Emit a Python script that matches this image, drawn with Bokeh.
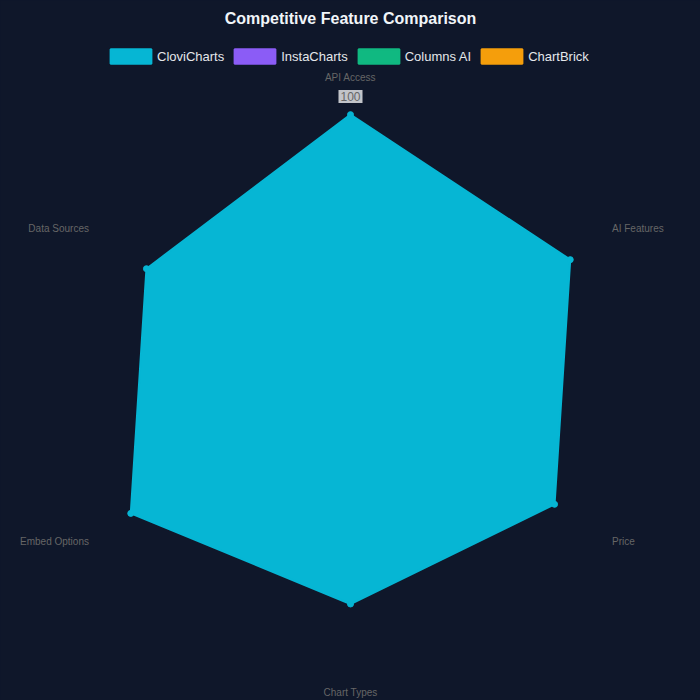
import numpy as np
from bokeh.plotting import figure
from bokeh.models import Range1d, Legend, LegendItem
from bokeh.core.properties import value
from bokeh.embed import file_html
from bokeh.resources import INLINE

# 数据
features = ["API Access", "AI Features", "Price", "Chart Types", "Embed Options", "Data Sources"]
clovicharts = [95, 90, 85, 80, 90, 85]
instacharts = [70, 60, 75, 65, 55, 60]
columns_ai = [45, 80, 70, 50, 40, 55]
chartbrick = [60, 30, 80, 70, 65, 20]
series_names = ["CloviCharts", "InstaCharts", "Columns AI", "ChartBrick"]
series_colors = ["#06b6d4", "#8b5cf6", "#10b981", "#f59e0b"]
tick_labels = ["100"]

scale_min, scale_max = 20, 100
R = 290  # 外圈半径(px)
BG = "#0f172a"
FONT_NAME = "Liberation Sans"
FONT = value(FONT_NAME)

angles = np.arange(len(features)) * 2 * np.pi / len(features)


def to_xy(vals):
    r = R * (np.array(vals, dtype=float) - scale_min) / (scale_max - scale_min)
    return r * np.sin(angles), r * np.cos(angles)


p = figure(width=700, height=700, output_backend="svg", toolbar_location=None,
           x_range=Range1d(-350, 350), y_range=Range1d(-314, 386),
           x_axis_location=None, y_axis_location=None, min_border=0,
           background_fill_color=BG, border_fill_color=BG, outline_line_color=None)
p.grid.visible = False

# 绘制雷达(后面的先画, CloviCharts 在最上层)
renderers = {}
all_series = [clovicharts, instacharts, columns_ai, chartbrick]
for name, vals, color in reversed(list(zip(series_names, all_series, series_colors))):
    xs, ys = to_xy(vals)
    r = p.patch(list(xs), list(ys), fill_color=color, fill_alpha=1.0,
                line_color=color, line_width=2)
    p.scatter(list(xs), list(ys), size=6, fill_color=color, line_color=color)
    renderers[name] = r

# 刻度标签 100
for t in tick_labels:
    ty = R * (float(t) - scale_min) / (scale_max - scale_min)
    p.text(x=[0], y=[ty], text=[t], text_font=FONT, text_font_size="12px",
           text_color="#666666", text_align="center", text_baseline="middle",
           background_fill_color="#ffffff", background_fill_alpha=0.75, padding=2)

# 维度标签
lx, ly, aligns = [], [], []
for a in angles:
    s, c = np.sin(a), np.cos(a)
    if abs(s) < 1e-6:
        x = 0.0
        y = R + 19 if c > 0 else -(R + 16)
        al = "center"
    else:
        x = (R + 12) * s
        y = (R + 12) * c + (7 if c > 0 else -4)
        al = "left" if s > 0 else "right"
    lx.append(x)
    ly.append(y)
    aligns.append(al)
for x, y, t, al in zip(lx, ly, features, aligns):
    p.text(x=[x], y=[y], text=[t], text_font=FONT, text_font_size="10px",
           text_color="#666666", text_align=al, text_baseline="middle")

# 标题
p.text(x=[0], y=[368.5], text=["Competitive Feature Comparison"], text_font=FONT,
       text_font_size="16px", text_font_style="bold", text_color="#f1f5f9",
       text_align="center", text_baseline="middle")

# 图例
legend = Legend(items=[LegendItem(label=n, renderers=[renderers[n]]) for n in series_names],
                orientation="horizontal", location=(105, 635),
                glyph_width=51, glyph_height=18, label_height=18, label_width=10,
                label_standoff=1, spacing=5, padding=0, margin=0,
                label_text_font=FONT_NAME, label_text_font_size="13px",
                label_text_color="#e5e7eb", background_fill_alpha=0,
                border_line_color=None)
p.add_layout(legend)

html = file_html(p, INLINE)
html = html.replace("<head>", "<head><style>html, body {background-color: %s;}</style>" % BG, 1)
open("out.html", "w").write(html)
